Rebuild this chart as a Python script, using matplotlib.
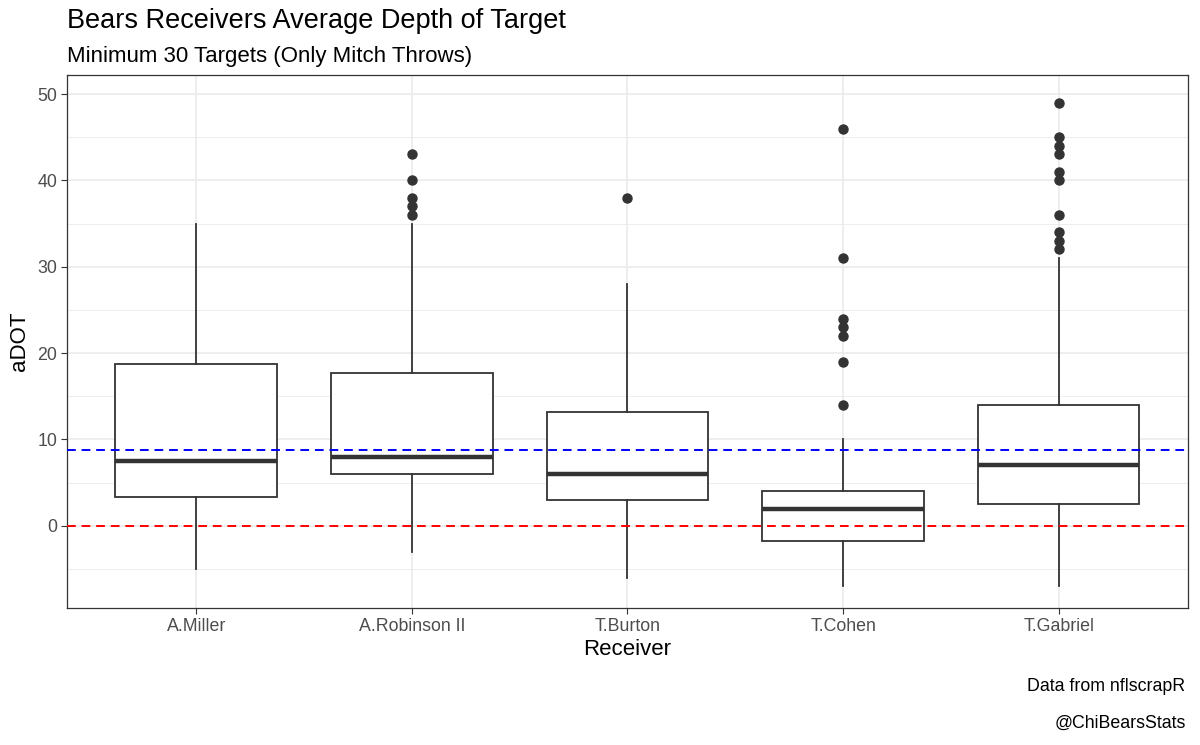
import matplotlib
matplotlib.use("Agg")
import matplotlib.pyplot as plt
import numpy as np

plt.rcParams['font.family'] = ['Liberation Sans', 'DejaVu Sans']

# --- Data ---
receivers = ["A.Miller", "A.Robinson II", "T.Burton", "T.Cohen", "T.Gabriel"]
whisker_low = [-5, -3, -6, -7, -7]
q1 = [3.3, 6.0, 3.0, -1.7, 2.5]
median = [7.5, 8.0, 6.0, 2.0, 7.0]
q3 = [18.7, 17.7, 13.2, 4.0, 14.0]
whisker_high = [35, 35, 28, 10, 31]
outliers = [
    [],
    [43, 40, 38, 37, 36],
    [38],
    [46, 31, 24, 23, 22, 19, 14],
    [49, 45, 44, 43, 41, 40, 36, 34, 33, 32],
]
mean_adot = 8.8

# --- Build stats for bxp ---
stats = []
for i, name in enumerate(receivers):
    stats.append({
        "label": name,
        "whislo": whisker_low[i],
        "q1": q1[i],
        "med": median[i],
        "q3": q3[i],
        "whishi": whisker_high[i],
        "fliers": outliers[i],
    })

fig = plt.figure(figsize=(12, 7.45), dpi=100)
ax = fig.add_axes([0.0558, 0.184, 0.9342, 0.7153])

# grid
for y in np.arange(-5, 51, 10):
    ax.axhline(y, color="#EBEBEB", lw=0.6, zorder=0)
for y in np.arange(0, 51, 10):
    ax.axhline(y, color="#EBEBEB", lw=1.2, zorder=0)
for x in range(1, len(receivers) + 1):
    ax.axvline(x, color="#EBEBEB", lw=1.2, zorder=0)

line_col = "#333333"
ax.bxp(stats, positions=range(1, len(receivers) + 1), widths=0.75,
       patch_artist=True, showfliers=True, showcaps=False,
       boxprops=dict(facecolor="white", edgecolor=line_col, lw=1.3),
       medianprops=dict(color=line_col, lw=3.2, solid_capstyle="butt"),
       whiskerprops=dict(color=line_col, lw=1.3),
       flierprops=dict(marker="o", markerfacecolor=line_col, markeredgecolor=line_col,
                       markersize=6.5, linestyle="none"),
       zorder=2)

ax.axhline(0, color="red", ls=(0, (4.5, 3)), lw=1.4, zorder=3)
ax.axhline(mean_adot, color="blue", ls=(0, (4.5, 3)), lw=1.4, zorder=3)

ax.set_xlim(0.4, 5.6)
ax.set_ylim(-9.5, 52.2)
ax.set_yticks(np.arange(0, 51, 10))
ax.set_xticks(range(1, len(receivers) + 1))
ax.set_xticklabels(receivers)
ax.tick_params(axis="both", colors="#333333", labelcolor="#4D4D4D", labelsize=12.8,
               length=4, width=0.8, pad=3)
for s in ax.spines.values():
    s.set_color("#333333")
    s.set_linewidth(0.9)

ax.set_xlabel("Receiver", fontsize=16, labelpad=3)
ax.set_ylabel("aDOT", fontsize=16, labelpad=5)

fig.text(0.0558, 0.962, "Bears Receivers Average Depth of Target", fontsize=19.5, va="baseline")
fig.text(0.0558, 0.917, "Minimum 30 Targets (Only Mitch Throws)", fontsize=16, va="baseline")
fig.text(0.988, 0.072, "Data from nflscrapR", fontsize=12.8, ha="right", va="baseline")
fig.text(0.988, 0.023, "@ChiBearsStats", fontsize=12.8, ha="right", va="baseline")

fig.savefig("out.png", dpi=100)
